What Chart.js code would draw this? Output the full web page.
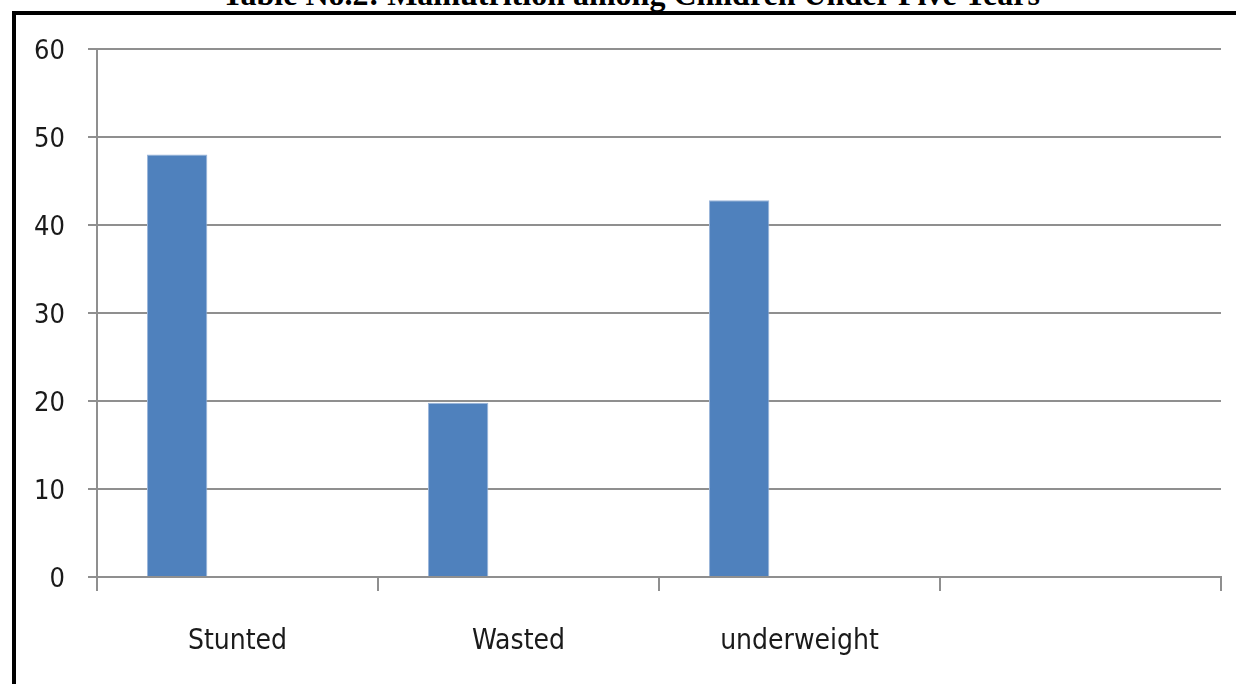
<!DOCTYPE html>
<html>
<head>
<meta charset="utf-8">
<script src="https://cdn.jsdelivr.net/npm/chart.js@4/dist/chart.umd.min.js"></script>
<style>
  html, body { margin: 0; padding: 0; background: #fff; overflow: hidden; }
  body { width: 1236px; height: 684px; position: relative; }
  #title {
    position: absolute; left: 13px; width: 1236px; top: -24px;
    text-align: center; white-space: nowrap;
    font-family: "Liberation Serif", "Times New Roman", serif;
    font-weight: bold; font-size: 32px; line-height: 36px; color: #000;
  }
  #frame {
    position: absolute; left: 12px; top: 11px; width: 1220px; height: 669px;
    border-left: 4px solid #000; border-top: 4px solid #000;
  }
  #wrap { position: absolute; left: 0; top: 0; width: 1236px; height: 684px; }
</style>
</head>
<body>
<div id="title">Table No.2: Malnutrition among Children Under Five Years</div>
<div id="frame"></div>
<div id="wrap"><canvas id="chart"></canvas></div>
<script>
// Chart data
const categories = ['Stunted', 'Wasted', 'underweight', ''];
const seriesOne = [48, 19.8, 42.8, null];
const seriesTwo = [null, null, null, null];
const seriesThree = [null, null, null, null];
const yTicks = [0, 10, 20, 30, 40, 50, 60];

const gridColor = '#8f8f8f';
const barBlue = '#4f81bd';
const labelFont = '"Liberation Sans Narrow", "DejaVu Sans Condensed", sans-serif';

function makeDataset(label, data) {
  return {
    label,
    data,
    backgroundColor: barBlue,
    borderColor: '#9ab5da',
    borderWidth: 1,
    categoryPercentage: 0.644,
    barPercentage: 1
  };
}

const ctx = document.getElementById('chart').getContext('2d');
const chart = new Chart(ctx, {
  type: 'bar',
  data: {
    labels: categories,
    datasets: [
      makeDataset('Series1', seriesOne),
      makeDataset('Series2', seriesTwo),
      makeDataset('Series3', seriesThree)
    ]
  },
  options: {
    responsive: true,
    maintainAspectRatio: false,
    animation: false,
    layout: { padding: { left: 0, top: 49, right: 15, bottom: 0 } },
    plugins: {
      legend: { display: false },
      tooltip: { enabled: false }
    },
    scales: {
      x: {
        afterFit: (scale) => { scale.height = 107; },
        grid: {
          offset: true,
          drawOnChartArea: false,
          drawTicks: true,
          tickLength: 14,
          color: gridColor,
          lineWidth: 2
        },
        border: { display: true, color: gridColor, width: 2 },
        ticks: {
          padding: 34,
          color: '#1a1a1a',
          font: { family: labelFont, size: 28 }
        }
      },
      y: {
        min: 0,
        max: 60,
        afterFit: (scale) => { scale.width = 97; },
        afterBuildTicks: (scale) => { scale.ticks = yTicks.map(v => ({ value: v })); },
        grid: {
          drawTicks: true,
          tickLength: 9,
          color: gridColor,
          lineWidth: 2
        },
        border: { display: true, color: gridColor, width: 2 },
        ticks: {
          padding: 23,
          labelOffset: 3,
          color: '#1a1a1a',
          font: { family: labelFont, size: 27 }
        }
      }
    }
  }
});
</script>
</body>
</html>
